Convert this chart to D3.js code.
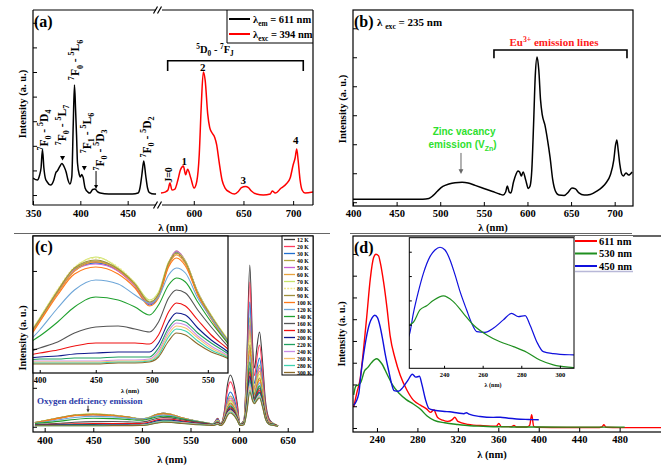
<!DOCTYPE html>
<html><head><meta charset="utf-8">
<script src="https://cdn.jsdelivr.net/npm/d3@7/dist/d3.min.js"></script>
<style>
html,body{margin:0;padding:0;background:#fff;}
svg{display:block;}
</style></head>
<body><svg id="fig" width="661" height="469"></svg>
<script>
// ================= DATA =================
// (a) excitation (black, lambda_em = 611 nm) and emission (red, lambda_exc = 394 nm)
const aExcWl = [350,354.6,357,358.5,360,361.5,363,365,368.5,372,374,376,378,380.5,383,385,387,389,391,392.5,393.8,395,396,397,399,400,401.5,403,405,408,410,413,415.5,418,421,430,455,461,463,465,467,469,471,473,478,480];
const aExcInt = [13.8,12.2,16.3,22,37,22,13.8,10.6,8.1,12.2,17.9,19.9,22.8,25.6,22.8,18.7,12.2,8.9,14.9,56.9,89.4,69.1,48.8,26,16.3,14.6,16.7,14.2,5.7,2.4,1.6,4.5,4.9,2.8,1.6,0.8,0.8,1.6,5.7,16.3,27.6,16.3,5.7,2,0.8,0.8];
const aEmWl = [567,571,574,576,578,581,584,586.5,589.5,591.8,593.8,597,600.3,603,605.5,607.5,609.6,611.5,614,616,618,621,623,625.5,628.5,631.5,636,641,645,648,652,655,658,663,670,677,679,682,688,693,697,700,702,703.6,705,707,709,712,720];
const aEmInt = [1.6,2.4,4.1,9.8,4.1,4.9,12.2,20.3,23.6,16.5,21,13.8,5.7,11,33,72,100,93,66,55,51,47,41,27,12,5.7,2.4,0.8,3,6,7,6,3.3,0.8,0,0.8,3.3,1.6,5.7,8.9,13.8,24.4,30.1,37.4,28.5,12.2,4.1,1.6,2.4];
const aTicksLeft = [350,400,450];
const aTicksRight = [600,650,700];
const aYTicks = [0,20,40,60,80,100,120,140];

// (b) emission, lambda_exc = 235 nm
const bWl = [400,480,487,492,497,503,510,517,525,532,540,550,560,568,572,575,577,579,581,584,587,589,591,593,595,598,601,603,605,607,609,611,613,615,617,620,623,626,629,632,636,642,647,651,655,659,665,672,680,686,690,695,699,701,702.5,704,706,708,710,713,716,720];
const bInt = [2.1,2.1,2.6,4.7,7.8,10.9,12.6,13.5,13.8,13.3,11.6,9.5,7.4,5.7,5.0,7.1,11.2,7.1,6.4,14,19.5,21.6,20.9,18.1,20.9,15.4,9.5,11.2,22.3,53.3,87.8,100.2,91.2,70.6,60.2,53.3,43,30.6,15.4,7.8,5.0,4.7,7.1,9.9,9.2,6.4,5.0,5.4,7.8,10.6,13.3,18.8,29.2,39.5,43,36.1,25.7,19.5,18.1,20.2,18.8,20.9];
const bTicks = [400,450,500,550,600,650,700];
const bYTicks = [0,20,40,60,80,100,120];

// (c) temperature dependent emission
const cTemps = ["12 K","20 K","30 K","40 K","50 K","60 K","70 K","80 K","90 K","100 K","120 K","140 K","160 K","180 K","200 K","220 K","240 K","260 K","280 K","300 K"];
const cColors = ["#3a3a3a","#ff3b5c","#1f6fd0","#b5a642","#c75fd6","#e8a33d","#c7e36a","#efe88a","#9f8f3a","#ff7a1a","#6ea6d8","#1fa02e","#555555","#ee1111","#101a8c","#20a060","#c98ee6","#f6c36e","#3fd3b0","#8a6a2a"];
const cDashed = ["80 K"];
const cWl = [390,400,416,431,450,470,485,498,506,515,522,530,541,553,567,573,578,581,585,588,591,595,598,601,605,608,611,614,616,618,621,624,627,631,636,640];
const cInt = [
 [36,53,81,103,111,103,88,70,78,109,120,111,80,56,33, 25,76,25,151,377,465,367,214,25,61,640,1454,713,528,690,852,596,239,68,25,8],
 [35,52,80,102,111,102,87,69,77,108,119,110,79,55,33, 25,71,25,134,326,403,318,185,25,58,572,1301,627,459,597,735,515,206,59,25,8],
 [37,53,81,103,110,103,87,68,77,109,121,111,81,57,34, 25,64,25,110,254,313,247,144,25,53,493,1121,536,390,504,618,433,173,49,25,8],
 [36,54,82,104,112,104,88,70,79,110,122,112,80,57,33, 25,59,25,100,224,277,219,127,25,49,430,978,479,354,455,555,389,155,44,25,8],
 [37,53,82,103,109,102,87,69,78,110,122,112,81,57,34, 25,57,25,95,210,259,205,119,25,48,403,915,455,340,434,528,370,148,42,25,8],
 [35,52,80,102,111,103,88,70,78,108,118,109,79,55,32, 24,54,24,89,195,241,190,111,24,46,383,870,435,326,414,501,351,140,40,24,7],
 [38,55,83,105,116,105,90,73,81,111,120,112,81,58,35, 26,55,26,89,188,232,183,107,26,46,359,816,412,311,393,474,332,133,38,26,8],
 [38,55,84,106,115,106,90,72,80,111,119,111,81,58,35, 26,53,26,86,181,223,176,103,26,46,343,780,398,302,379,456,319,128,36,26,8],
 [37,54,82,105,113,104,89,71,79,110,120,111,80,57,34, 25,51,25,83,173,214,169,98,25,43,323,735,381,293,366,438,307,123,35,25,8],
 [34,51,78,99,106,99,85,67,75,106,115,107,78,54,31, 23,47,23,78,166,205,162,94,23,40,304,690,365,284,352,420,294,118,34,23,7],
 [31,43,65,83,93,89,78,70,76,98,105,100,75,55,33, 25,47,25,78,159,196,155,90,25,41,280,636,344,271,333,394,276,110,32,25,8],
 [30,37,51,66,76,73,66,58,68,88,95,91,71,51,31, 23,43,23,73,151,187,148,86,23,38,256,582,322,257,312,367,257,103,29,23,7],
 [21,25,31,40,46,47,44,41,51,75,83,80,63,46,28, 21,39,21,69,144,178,141,82,21,34,232,528,305,249,299,349,244,98,28,21,6],
 [18,20,23,27,30,30,30,29,38,61,70,67,53,38,25, 19,36,19,65,137,169,134,78,19,31,216,492,290,240,286,331,232,93,26,19,6],
 [15,16,17,19,20,21,21,21,30,51,60,58,45,33,22, 16,32,16,59,130,160,126,74,16,27,201,456,276,231,272,313,219,88,25,16,5],
 [13,14,14,15,15,16,16,16,25,45,53,51,40,30,20, 15,30,15,56,122,151,119,69,15,26,185,420,266,228,266,304,213,85,24,15,5],
 [12,12,12,12,12,13,13,14,22,42,50,48,37,27,18, 13,26,13,52,118,146,115,67,13,23,169,385,251,218,252,286,200,80,23,13,4],
 [11,11,11,11,11,12,12,13,20,39,47,45,35,25,17, 13,26,13,51,115,142,112,65,13,22,158,358,244,215,246,277,194,78,22,13,4],
 [10,10,10,10,10,11,11,12,18,36,44,42,32,23,16, 12,24,12,48,108,133,105,61,12,20,146,331,235,211,240,268,188,75,21,12,4],
 [9,9,9,9,9,10,10,11,16,32,40,38,29,21,15, 11,22,11,44,100,124,98,57,11,19,138,313,228,207,233,259,181,73,21,11,3]
];
const cTicks = [400,450,500,550,600,650];
const cInsetTicks = [400,450,500,550];
const cYTicks = [0,350,700,1050,1400];

// (d) excitation spectra monitored at 611, 530, 450 nm
const dRedWl = [217,220,223.5,226.8,230,233.4,236.7,239,241.6,243.3,246.6,250,253,258,263,269.7,276,283,289,293,296.5,298,300,305,310,314.5,317,320,330,345,358,360.5,363,373,375.5,378,388,391,393,395,398,420,460,462.5,464.5,466.5,480,500,525];
const dRedInt = [12,20,28.6,45.7,64.6,85.7,97.9,99.8,98.9,95,83.6,68.6,53.1,39.8,30.3,21.7,16,13.1,11,9,10.5,8.5,6,4.5,3.8,4.8,6.2,3.8,2.1,1.3,1.0,2.6,0.8,0.8,1.4,0.6,0.6,1.5,7.6,1.0,0.4,0.3,0.3,0.6,1.9,0.4,0.2,0.2,0.2];
const dGreenWl = [217,219,222,224.1,227.5,231,234.4,239.6,244.8,250,255.2,262.1,269,275.9,282.8,289.6,296.6,307,320,332,345,359,380,400,440,485];
const dGreenInt = [19,24,24.9,26.3,32.6,34.8,37.4,39.8,36.9,30.9,24.9,19.8,16.3,13.8,10.9,6.9,4.4,3.0,2.0,1.3,1.0,0.7,0.6,0.6,0.5,0.5];
const dBlueWl = [217,222,224.1,226.7,229.3,232.7,235.3,237.9,240.5,243.1,245.7,248.3,251.7,254.3,256.9,261.2,265.5,270.7,275,278.5,282,284.5,288,291.4,296.6,307,312,320,326,328.5,331,342,355,362,370,378,390,400];
const dBlueInt = [13,19.8,30.9,42,51.4,60,63.4,64.8,63.4,58.3,50.6,42,32.6,25.8,21.5,21.1,23.2,27.5,30.9,29.2,29.7,24.9,16.3,11.2,10.2,9.5,9.3,8.6,8.2,8.8,8,6.6,6.1,6.2,5.6,5.2,4.9,4.7];
const dLabels = ["611 nm","530 nm","450 nm"];
const dColors = ["#ff0000","#1f8f1f","#1010dd"];
const dTicks = [240,280,320,360,400,440,480];
const dInsetTicks = [240,260,280,300];
const dYTicks = [0,12.5,25,37.5,50,62.5,75,87.5,100];
const dInsetYTicks = [12.5,25,37.5,50,62.5];

// ================= HELPERS =================
const svg = d3.select("#fig");
const SERIF = '"Liberation Serif","Times New Roman",serif';
const SANS = '"Liberation Sans",Arial,sans-serif';
const zip = (xs, ys) => xs.map((x, i) => [x, ys[i]]);

function rich(parent, x, y, parts, o = {}) {
  const fs = o.fs || 10;
  const t = parent.append("text")
    .attr("font-family", o.family || SERIF)
    .attr("font-weight", "bold")
    .attr("font-size", fs)
    .attr("fill", o.fill || "#000")
    .attr("text-anchor", o.anchor || "start");
  if (o.rotate) t.attr("transform", `translate(${x + fs * 0.35},${y}) rotate(${o.rotate})`);
  else t.attr("x", x).attr("y", y);
  let cur = 0;
  parts.forEach(p => {
    const s = Array.isArray(p) ? p[0] : p;
    const k = Array.isArray(p) ? p[1] : "";
    const target = k === "sup" ? -fs * 0.4 : k === "sub" ? fs * 0.3 : 0;
    const ts = t.append("tspan").attr("font-size", k ? fs * 0.7 : fs).text(s);
    if (target - cur !== 0) ts.attr("dy", target - cur);
    cur = target;
  });
  return t;
}
function xAxis(g, scale, vals, y, pad, fs, len = 4) {
  const ax = g.append("g").attr("transform", `translate(0,${y})`)
    .call(d3.axisBottom(scale).tickValues(vals).tickSize(-len).tickPadding(pad).tickFormat(d3.format("d")));
  ax.select(".domain").remove();
  ax.selectAll("line").attr("stroke", "#000").attr("stroke-width", 1);
  ax.selectAll("text").attr("font-family", SERIF).attr("font-weight", "bold").attr("font-size", fs).attr("fill", "#000");
  return ax;
}
function yAxis(g, scale, vals, x, len = 4) {
  const ax = g.append("g").attr("transform", `translate(${x},0)`)
    .call(d3.axisLeft(scale).tickValues(vals).tickSize(-len).tickFormat(""));
  ax.select(".domain").remove();
  ax.selectAll("line").attr("stroke", "#000").attr("stroke-width", 1);
  return ax;
}
function title(g, x, y, txt, fs, rot) {
  const t = g.append("text").attr("font-family", SERIF).attr("font-weight", "bold")
    .attr("font-size", fs).attr("text-anchor", "middle").text(txt);
  if (rot) t.attr("transform", `translate(${x + fs * 0.35},${y}) rotate(-90)`);
  else t.attr("x", x).attr("y", y);
}
function hline(g, x1, x2, y, c = "#000", w = 1.2) {
  return g.append("line").attr("x1", x1).attr("x2", x2).attr("y1", y).attr("y2", y).attr("stroke", c).attr("stroke-width", w);
}
function vline(g, x, y1, y2, c = "#000", w = 1.2) {
  return g.append("line").attr("x1", x).attr("x2", x).attr("y1", y1).attr("y2", y2).attr("stroke", c).attr("stroke-width", w);
}
const defs = svg.append("defs");
function clip(id, x, y, w, h) {
  defs.append("clipPath").attr("id", id).append("rect").attr("x", x).attr("y", y).attr("width", w).attr("height", h);
  return `url(#${id})`;
}
function arrowDown(g, x, y1, y2, c, head = 3) {
  vline(g, x, y1, y2 - head, c, 1);
  g.append("path").attr("d", `M${x - head * 0.8},${y2 - head * 1.6}L${x + head * 0.8},${y2 - head * 1.6}L${x},${y2}Z`).attr("fill", c);
}

// ================= PANEL (a) =================
{
  const g = svg.append("g");
  const L = 33, R = 313, T = 10, B = 205;
  const x1 = d3.scaleLinear().domain([350, 481]).range([L, 157]);
  const x2 = d3.scaleLinear().domain([567, 720]).range([161, R]);
  const y = d3.scaleLinear().domain([-8.1, 150.4]).range([B, T]);
  const cp = clip("clipA", L, T, R - L, B - T);

  g.append("path").datum(zip(aExcWl, aExcInt)).attr("clip-path", cp)
    .attr("d", d3.line().x(d => x1(d[0])).y(d => y(d[1])).curve(d3.curveMonotoneX))
    .attr("fill", "none").attr("stroke", "#000").attr("stroke-width", 1.5);
  g.append("path").datum(zip(aEmWl, aEmInt)).attr("clip-path", cp)
    .attr("d", d3.line().x(d => x2(d[0])).y(d => y(d[1])).curve(d3.curveMonotoneX))
    .attr("fill", "none").attr("stroke", "#ff0000").attr("stroke-width", 1.5);

  // frame with axis break
  vline(g, L, T, B); vline(g, R, T, B);
  hline(g, L, 156, T); hline(g, 162, R, T);
  hline(g, L, 156, B); hline(g, 162, R, B);
  [T, B].forEach(yy => {
    [155.5, 159.5].forEach(xx => {
      g.append("line").attr("x1", xx - 2).attr("y1", yy + 3.5).attr("x2", xx + 2).attr("y2", yy - 3.5)
        .attr("stroke", "#000").attr("stroke-width", 1.2);
    });
  });
  xAxis(g, x1, aTicksLeft, B, 5, 10.5);
  xAxis(g, x2, aTicksRight, B, 5, 10.5);
  yAxis(g, y, aYTicks, L);
  title(g, 173, 231, "λ (nm)", 10.5);
  title(g, 22, 104, "Intensity (a. u.)", 10.5, true);
  g.append("text").attr("x", 34).attr("y", 27).attr("font-family", SERIF).attr("font-weight", "bold").attr("font-size", 16).text("(a)");

  // legend
  hline(g, 227, R, 43, "#000", 1);
  vline(g, 227, T, 43, "#000", 1);
  hline(g, 229, 250, 19, "#000", 2);
  hline(g, 229, 250, 34, "#ff0000", 2);
  rich(g, 253, 22.5, ["λ", ["em", "sub"], " = 611 nm"], { fs: 10.5 });
  rich(g, 253, 37.5, ["λ", ["exc", "sub"], " = 394 nm"], { fs: 10.5 });

  // bracket 5D0 - 7FJ
  const bx1 = x2(573.7), bx2 = x2(710.2), by = y(109.2), by2 = y(100.8);
  g.append("path").attr("d", `M${bx1},${by2}V${by}H${bx2}V${by2}`).attr("fill", "none").attr("stroke", "#000").attr("stroke-width", 1.6);
  rich(g, x2(621.4), y(115.2), [["5", "sup"], "D", ["0", "sub"], " - ", ["7", "sup"], "F", ["J", "sub"]], { fs: 10.5, anchor: "middle" });

  // red peak labels
  [["J=0", 574.3, 16.3, true], ["1", 590.5, 27.6], ["2", 609, 104.3], ["3", 649.8, 12.2], ["4", 702.6, 44.3]].forEach(([t, nm, v, rot]) => {
    if (rot) title(g, x2(nm), y(v), t, 10, true);
    else g.append("text").attr("x", x2(nm)).attr("y", y(v) + 3.8).attr("text-anchor", "middle")
      .attr("font-family", SERIF).attr("font-weight", "bold").attr("font-size", 11).text(t);
  });

  // black transitions (rotated)
  const tr = (a, b, c, d) => [[a, "sup"], "F", [b, "sub"], " - ", [c, "sup"], d.slice(0, 1), [d.slice(1), "sub"]];
  [[361.1, 52.8, tr("7", "0", "5", "D4")], [380.6, 56.9, tr("7", "0", "5", "L7")], [394.4, 109.8, tr("7", "0", "5", "L6")],
   [407, 50.4, tr("7", "1", "5", "L6")], [420.3, 36.6, tr("7", "0", "5", "D3")], [469.9, 47.2, tr("7", "0", "5", "D2")]]
    .forEach(([nm, v, parts]) => rich(g, x1(nm), y(v), parts, { fs: 11.5, anchor: "middle", rotate: -90 }));
  [[381.2, 30.1], [404.2, 22]].forEach(([nm, v]) => {
    const cx = x1(nm), cy = y(v);
    g.append("path").attr("d", `M${cx - 2.5},${cy - 2}L${cx + 2.5},${cy - 2}L${cx},${cy + 2.5}Z`).attr("fill", "#000");
  });
  arrowDown(g, x1(416.6), y(19.5), y(4.9), "#000", 2.5);
}

// ================= PANEL (b) =================
{
  const g = svg.append("g");
  const L = 353, R = 633, T = 10, B = 206;
  const x = d3.scaleLinear().domain([400, 721]).range([L, R]);
  const y = d3.scaleLinear().domain([-2.6, 132.6]).range([B, T]);
  const cp = clip("clipB", L, T, R - L, B - T);
  g.append("path").datum(zip(bWl, bInt)).attr("clip-path", cp)
    .attr("d", d3.line().x(d => x(d[0])).y(d => y(d[1])).curve(d3.curveMonotoneX))
    .attr("fill", "none").attr("stroke", "#000").attr("stroke-width", 1.5);
  g.append("rect").attr("x", L).attr("y", T).attr("width", R - L).attr("height", B - T)
    .attr("fill", "none").attr("stroke", "#000").attr("stroke-width", 1.2);
  xAxis(g, x, bTicks, B, 4, 10.5);
  yAxis(g, y, bYTicks, L);
  title(g, 493, 231, "λ (nm)", 10.5);
  title(g, 342, 109, "Intensity (a. u.)", 10.5, true);
  g.append("text").attr("x", 354).attr("y", 27).attr("font-family", SERIF).attr("font-weight", "bold").attr("font-size", 16).text("(b)");
  rich(g, 377, 26, ["λ ", ["exc", "sub"], " = 235 nm"], { fs: 11 });

  const bx1 = x(561.6), bx2 = x(714.1), by = y(105), by2 = y(99.3);
  g.append("path").attr("d", `M${bx1},${by2}V${by}H${bx2}V${by2}`).attr("fill", "none").attr("stroke", "#000").attr("stroke-width", 1.6);
  rich(g, x(630.4), y(107.8), ["Eu", ["3+", "sup"], " emission lines"], { fs: 11, anchor: "middle", fill: "#ff2020" });
  rich(g, x(527.3), y(46.4), ["Zinc vacancy"], { fs: 10, anchor: "middle", fill: "#2ee02e", family: SANS });
  rich(g, x(525.6), y(37.1), ["emission (V", ["Zn", "sub"], ")"], { fs: 10, anchor: "middle", fill: "#2ee02e", family: SANS });
  arrowDown(g, x(523.8), y(34), y(19.5), "#666", 3);
}

// ================= PANEL (c) =================
{
  const g = svg.append("g");
  const L = 33, R = 313, T = 236, B = 432;
  const x = d3.scaleLinear().domain([388, 676]).range([L, R]);
  const y = d3.scaleLinear().domain([-47, 1714]).range([B, T]);
  const cp = clip("clipC", L, T, R - L, B - T);
  const line = d3.line().x(d => x(d[0])).y(d => y(d[1])).curve(d3.curveMonotoneX);
  cInt.forEach((vals, i) => {
    g.append("path").datum(zip(cWl, vals)).attr("clip-path", cp).attr("d", line)
      .attr("fill", "none").attr("stroke", cColors[i]).attr("stroke-width", 1.1)
      .attr("stroke-dasharray", cDashed.includes(cTemps[i]) ? "2,1.5" : null);
  });
  g.append("rect").attr("x", L).attr("y", T).attr("width", R - L).attr("height", B - T)
    .attr("fill", "none").attr("stroke", "#000").attr("stroke-width", 1.2);
  xAxis(g, x, cTicks, B, 5, 10.5);
  title(g, 172, 463, "λ (nm)", 10.5);
  title(g, 22, 338, "Intensity (a. u.)", 10, true);
  g.append("text").attr("font-family", SERIF).attr("font-weight", "bold")
    .attr("font-size", 9).attr("fill", "#2b3aa8")
    .attr("x", x(392.1)).attr("y", y(205)).text("Oxygen deficiency emission");
  arrowDown(g, x(444.6), y(190), y(128), "#333", 2);

  // inset
  const iL = 33, iR = 228, iT = 236, iB = 373;
  const xi = d3.scaleLinear().domain([394, 568]).range([iL, iR]);
  const yi = d3.scaleLinear().domain([0, 137]).range([iB, iT]);
  g.append("rect").attr("x", iL).attr("y", iT).attr("width", iR - iL).attr("height", iB - iT).attr("fill", "#fff");
  const cpi = clip("clipCi", iL, iT, iR - iL, iB - iT);
  const li = d3.line().x(d => xi(d[0])).y(d => yi(d[1])).curve(d3.curveMonotoneX);
  cInt.forEach((vals, i) => {
    g.append("path").datum(zip(cWl, vals)).attr("clip-path", cpi).attr("d", li)
      .attr("fill", "none").attr("stroke", cColors[i]).attr("stroke-width", 1.1)
      .attr("stroke-dasharray", cDashed.includes(cTemps[i]) ? "2,1.5" : null);
  });
  g.append("rect").attr("x", iL).attr("y", iT).attr("width", iR - iL).attr("height", iB - iT)
    .attr("fill", "none").attr("stroke", "#000").attr("stroke-width", 1.2);
  xAxis(g, xi, cInsetTicks, iB, 4, 8.5, 3);
  yAxis(g, y, cYTicks, L);
  title(g, 130, 392.5, "λ (nm)", 6.5);
  g.append("text").attr("x", 35).attr("y", 252).attr("font-family", SERIF).attr("font-weight", "bold").attr("font-size", 16).text("(c)");

  // legend
  const lL = 282, lT = 236, lB = 375;
  g.append("rect").attr("x", lL).attr("y", lT).attr("width", R - lL).attr("height", lB - lT)
    .attr("fill", "#fff").attr("stroke", "#000").attr("stroke-width", 1);
  cTemps.forEach((t, i) => {
    const yy = 239.5 + i * 7;
    const ln = hline(g, 284, 295, yy, cColors[i], 1.3);
    if (cDashed.includes(t)) ln.attr("stroke-dasharray", "2,1.2");
    g.append("text").attr("x", 297).attr("y", yy + 2).attr("font-family", SERIF).attr("font-weight", "bold")
      .attr("font-size", 5.8).text(t);
  });
}

// ================= PANEL (d) =================
{
  const g = svg.append("g");
  const L = 353, R = 662, T = 236, B = 432;
  const x = d3.scaleLinear().domain([216.3, 521.9]).range([L, R]);
  const y = d3.scaleLinear().domain([-2.3, 110.3]).range([B, T]);
  const cp = clip("clipD", L, T, R - L, B - T);
  const line = d3.line().x(d => x(d[0])).y(d => y(d[1])).curve(d3.curveMonotoneX);
  const series = [zip(dRedWl, dRedInt), zip(dGreenWl, dGreenInt), zip(dBlueWl, dBlueInt)];
  series.forEach((s, i) => g.append("path").datum(s).attr("clip-path", cp).attr("d", line)
    .attr("fill", "none").attr("stroke", dColors[i]).attr("stroke-width", 1.4));
  g.append("rect").attr("x", L).attr("y", T).attr("width", R - L).attr("height", B - T)
    .attr("fill", "none").attr("stroke", "#000").attr("stroke-width", 1.2);
  xAxis(g, x, dTicks, B, 3.5, 10.5);
  yAxis(g, y, dYTicks, L);
  title(g, 492, 458, "λ (nm)", 10.5);
  title(g, 341, 334, "Intensity (a. u.)", 10, true);
  g.append("text").attr("x", 354).attr("y", 253).attr("font-family", SERIF).attr("font-weight", "bold").attr("font-size", 16).text("(d)");

  // legend
  g.append("rect").attr("x", 575).attr("y", T).attr("width", 58).attr("height", 35.5).attr("fill", "#fff");
  hline(g, 575, 633, 271.5, "#b8b8d8", 1.5);
  dLabels.forEach((t, i) => {
    const yy = 241 + i * 12.5;
    hline(g, 575, 597, yy, dColors[i], 2);
    g.append("text").attr("x", 599).attr("y", yy + 3.5).attr("font-family", SERIF).attr("font-weight", "bold")
      .attr("font-size", 10.5).text(t);
  });

  // inset
  const iL = 409.3, iR = 574, iT = 237.7, iB = 368.3;
  const xi = d3.scaleLinear().domain([222, 307.3]).range([iL, iR]);
  const yi = d3.scaleLinear().domain([2.65, 69.7]).range([iB, iT]);
  g.append("rect").attr("x", iL).attr("y", iT).attr("width", iR - iL).attr("height", iB - iT).attr("fill", "#fff");
  const cpi = clip("clipDi", iL, iT, iR - iL, iB - iT);
  const li = d3.line().x(d => xi(d[0])).y(d => yi(d[1])).curve(d3.curveMonotoneX);
  [[series[2], dColors[2]], [series[1], dColors[1]]].forEach(([s, c]) =>
    g.append("path").datum(s).attr("clip-path", cpi).attr("d", li).attr("fill", "none").attr("stroke", c).attr("stroke-width", 1.2));
  g.append("rect").attr("x", iL).attr("y", iT).attr("width", iR - iL).attr("height", iB - iT)
    .attr("fill", "none").attr("stroke", "#000").attr("stroke-width", 1);
  xAxis(g, xi, dInsetTicks, iB, 4, 6.5, 2.5);
  yAxis(g, yi, dInsetYTicks, iL, 2.5);
  title(g, 493, 387, "λ (nm)", 6);
}

// panel separators
hline(svg, 14, 330, 233.5, "#666", 1);
hline(svg, 350, 632, 233.5, "#666", 1);
</script>
</body></html>
